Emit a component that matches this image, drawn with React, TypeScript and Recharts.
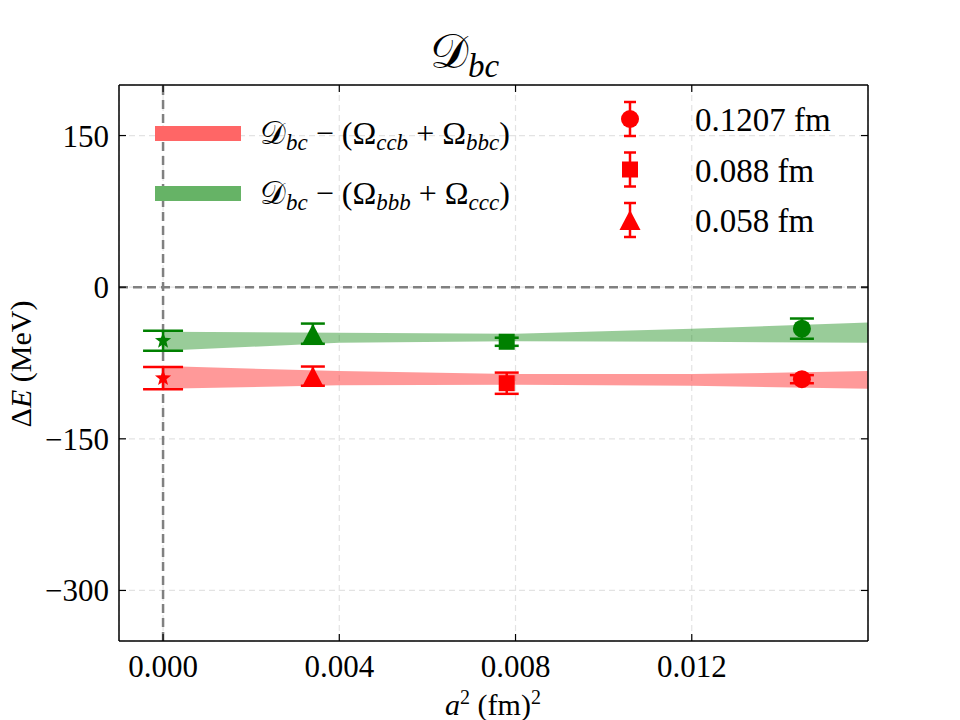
import React from 'react';
import {
  ComposedChart, Area, Scatter, ErrorBar, XAxis, YAxis, CartesianGrid, ReferenceLine,
} from 'recharts';

// fit bands (a^2 in fm^2 -> [low, high] in MeV)
const bandX = [0, 0.004, 0.008, 0.012, 0.016];
const redBandLo = [-100.5, -97, -96.5, -97.5, -100.5];
const redBandHi = [-78, -83, -86, -86, -83];
const greenBandLo = [-63, -55, -53.5, -54, -55];
const greenBandHi = [-44, -45, -46, -41, -35];

// lattice points: 0.1207 fm, 0.088 fm, 0.058 fm, continuum
const latticeA2 = [0.0145, 0.0078, 0.0034];
const redVals = [-91, -95, -88];
const redErrs = [4, 10.5, 9.5];
const greenVals = [-41, -54, -46];
const greenErrs = [10, 4, 10];
const contRed = -90;
const contRedErr = 11;
const contGreen = -53;
const contGreenErr = 10;

const xTicks = [0, 0.004, 0.008, 0.012];
const yTicks = [-300, -150, 0, 150];
const legendA = ['0.1207 fm', '0.088 fm', '0.058 fm'];

const bandData = bandX.map((x, i) => ({
  x,
  red: [redBandLo[i], redBandHi[i]],
  green: [greenBandLo[i], greenBandHi[i]],
}));

const pt = (i: number, vals: number[], errs: number[]) => [{ x: latticeA2[i], y: vals[i], err: errs[i] }];

const FONT = '"Liberation Serif", "DejaVu Serif", serif';
const RED = '#ff0000';
const GREEN = '#008000';

const circle = (color: string) => (p: any) => <circle cx={p.cx} cy={p.cy} r={9} fill={color} />;
const square = (color: string) => (p: any) => <rect x={p.cx - 8} y={p.cy - 8} width={16} height={16} fill={color} />;
const triangle = (color: string) => (p: any) => (
  <polygon points={`${p.cx},${p.cy - 10} ${p.cx - 10.5},${p.cy + 10} ${p.cx + 10.5},${p.cy + 10}`} fill={color} />
);
const starPts = (cx: number, cy: number, r: number) => {
  const out: string[] = [];
  for (let k = 0; k < 10; k++) {
    const rr = k % 2 === 0 ? r : r * 0.42;
    const ang = -Math.PI / 2 + (k * Math.PI) / 5;
    out.push(`${cx + rr * Math.cos(ang)},${cy + rr * Math.sin(ang)}`);
  }
  return out.join(' ');
};
const star = (color: string) => (p: any) => <polygon points={starPts(p.cx, p.cy, 8.5)} fill={color} />;

const noTick = () => <g />;
const fmtX = (v: number) => v.toFixed(3);
const fmtY = (v: number) => (v < 0 ? '\u2212' + Math.abs(v) : String(v));

const MarkerLegend = ({ y, kind, label }: { y: number; kind: number; label: string }) => {
  const cx = 630;
  return (
    <g>
      <line x1={cx} x2={cx} y1={y - 17} y2={y + 17} stroke={RED} strokeWidth={2.5} />
      <line x1={cx - 6} x2={cx + 6} y1={y - 17} y2={y - 17} stroke={RED} strokeWidth={2.5} />
      <line x1={cx - 6} x2={cx + 6} y1={y + 17} y2={y + 17} stroke={RED} strokeWidth={2.5} />
      {kind === 0 && <circle cx={cx} cy={y} r={9} fill={RED} />}
      {kind === 1 && <rect x={cx - 8} y={y - 8} width={16} height={16} fill={RED} />}
      {kind === 2 && <polygon points={`${cx},${y - 10} ${cx - 10.5},${y + 10} ${cx + 10.5},${y + 10}`} fill={RED} />}
      <text x={695} y={y + 12} fontSize={33}>{label}</text>
    </g>
  );
};

const BandLabel = ({ x, y, s1, s2 }: { x: number; y: number; s1: string; s2: string }) => (
  <text x={x} y={y} fontSize={32}>
    𝒟<tspan fontStyle="italic" fontSize={23} dy={6}>bc</tspan>
    <tspan dy={-6}>{' \u2212 (\u03A9'}</tspan>
    <tspan fontStyle="italic" fontSize={23} dy={6}>{s1}</tspan>
    <tspan dy={-6}>{' + \u03A9'}</tspan>
    <tspan fontStyle="italic" fontSize={23} dy={6}>{s2}</tspan>
    <tspan dy={-6}>)</tspan>
  </text>
);

export default function App() {
  return (
    <div style={{ position: 'absolute', left: 0, top: 0, width: 960, height: 720, background: '#fff', fontFamily: FONT }}>
      <ComposedChart
        width={960}
        height={720}
        data={bandData}
        margin={{ top: 85, right: 92, bottom: 39, left: 59 }}
      >
        <CartesianGrid stroke="#e3e3e3" strokeDasharray="6 4" strokeWidth={1.2} />
        <XAxis xAxisId="bt" orientation="bottom" type="number" dataKey="x" domain={[-0.001, 0.016]} ticks={xTicks}
          allowDataOverflow mirror height={1} tickSize={7} tick={noTick} axisLine={false}
          tickLine={{ stroke: '#000', strokeWidth: 1.2 }} />
        <XAxis
          dataKey="x"
          type="number"
          domain={[-0.001, 0.016]}
          ticks={xTicks}
          tickFormatter={fmtX}
          allowDataOverflow
          tickLine={false}
          axisLine={{ stroke: '#000', strokeWidth: 1.5 }}
          tickSize={0}
          tickMargin={14}
          height={40}
          tick={{ fill: '#000', fontSize: 31, fontFamily: FONT }}
        />
        <XAxis xAxisId="top" orientation="top" type="number" dataKey="x" domain={[-0.001, 0.016]} ticks={xTicks}
          allowDataOverflow mirror height={1} tickSize={7} tick={noTick} axisLine={{ stroke: '#000', strokeWidth: 1.5 }}
          tickLine={{ stroke: '#000', strokeWidth: 1.2 }} />
        <YAxis yAxisId="lt" orientation="left" type="number" domain={[-350, 200]} ticks={yTicks}
          allowDataOverflow mirror width={1} tickSize={7} tick={noTick} axisLine={false}
          tickLine={{ stroke: '#000', strokeWidth: 1.2 }} />
        <YAxis
          type="number"
          domain={[-350, 200]}
          ticks={yTicks}
          tickFormatter={fmtY}
          allowDataOverflow
          tickLine={false}
          tickSize={0}
          tickMargin={10}
          width={60}
          axisLine={{ stroke: '#000', strokeWidth: 1.5 }}
          tick={{ fill: '#000', fontSize: 31, fontFamily: FONT }}
        />
        <YAxis yAxisId="right" orientation="right" type="number" domain={[-350, 200]} ticks={yTicks}
          allowDataOverflow mirror width={1} tickSize={7} tick={noTick} axisLine={{ stroke: '#000', strokeWidth: 1.5 }}
          tickLine={{ stroke: '#000', strokeWidth: 1.2 }} />

        <ReferenceLine y={0} stroke="#808080" strokeWidth={2.5} strokeDasharray="9 5" />
        <ReferenceLine x={0} stroke="#808080" strokeWidth={2.5} strokeDasharray="9 5" />

        <Area dataKey="red" type="linear" stroke="none" fill={RED} fillOpacity={0.4} isAnimationActive={false} activeDot={false} />
        <Area dataKey="green" type="linear" stroke="none" fill={GREEN} fillOpacity={0.4} isAnimationActive={false} activeDot={false} />

        <Scatter data={pt(0, greenVals, greenErrs)} dataKey="y" shape={circle(GREEN)} isAnimationActive={false}>
          <ErrorBar dataKey="err" direction="y" width={12} stroke={GREEN} strokeWidth={2.5} />
        </Scatter>
        <Scatter data={pt(1, greenVals, greenErrs)} dataKey="y" shape={square(GREEN)} isAnimationActive={false}>
          <ErrorBar dataKey="err" direction="y" width={12} stroke={GREEN} strokeWidth={2.5} />
        </Scatter>
        <Scatter data={pt(2, greenVals, greenErrs)} dataKey="y" shape={triangle(GREEN)} isAnimationActive={false}>
          <ErrorBar dataKey="err" direction="y" width={12} stroke={GREEN} strokeWidth={2.5} />
        </Scatter>
        <Scatter data={[{ x: 0, y: contGreen, err: contGreenErr }]} dataKey="y" shape={star(GREEN)} isAnimationActive={false}>
          <ErrorBar dataKey="err" direction="y" width={20} stroke={GREEN} strokeWidth={2.5} />
        </Scatter>

        <Scatter data={pt(0, redVals, redErrs)} dataKey="y" shape={circle(RED)} isAnimationActive={false}>
          <ErrorBar dataKey="err" direction="y" width={12} stroke={RED} strokeWidth={2.5} />
        </Scatter>
        <Scatter data={pt(1, redVals, redErrs)} dataKey="y" shape={square(RED)} isAnimationActive={false}>
          <ErrorBar dataKey="err" direction="y" width={12} stroke={RED} strokeWidth={2.5} />
        </Scatter>
        <Scatter data={pt(2, redVals, redErrs)} dataKey="y" shape={triangle(RED)} isAnimationActive={false}>
          <ErrorBar dataKey="err" direction="y" width={12} stroke={RED} strokeWidth={2.5} />
        </Scatter>
        <Scatter data={[{ x: 0, y: contRed, err: contRedErr }]} dataKey="y" shape={star(RED)} isAnimationActive={false}>
          <ErrorBar dataKey="err" direction="y" width={20} stroke={RED} strokeWidth={2.5} />
        </Scatter>
      </ComposedChart>

      <svg width={960} height={720} style={{ position: 'absolute', left: 0, top: 0, pointerEvents: 'none', fontFamily: FONT }}>
        <text x={430} y={68} fontSize={48}>
          𝒟<tspan fontStyle="italic" fontSize={33} dy={9}>bc</tspan>
        </text>

        <rect x={155} y={126} width={86} height={15} fill="#ff6666" />
        <BandLabel x={260} y={144} s1="ccb" s2="bbc" />
        <rect x={155} y={186} width={86} height={15} fill="#66b366" />
        <BandLabel x={260} y={204} s1="bbb" s2="ccc" />

        {legendA.map((l, i) => (
          <MarkerLegend key={l} y={119 + i * 50.5} kind={i} label={l} />
        ))}

        <text x={493} y={715} fontSize={30} textAnchor="middle">
          <tspan fontStyle="italic">a</tspan>
          <tspan fontSize={20} dy={-11}>2</tspan>
          <tspan dy={11}>{' (fm)'}</tspan>
          <tspan fontSize={20} dy={-11}>2</tspan>
        </text>
        <text transform="translate(31,364) rotate(-90)" fontSize={30} textAnchor="middle">
          {'\u0394'}<tspan fontStyle="italic">E</tspan>{' (MeV)'}
        </text>
      </svg>
    </div>
  );
}
